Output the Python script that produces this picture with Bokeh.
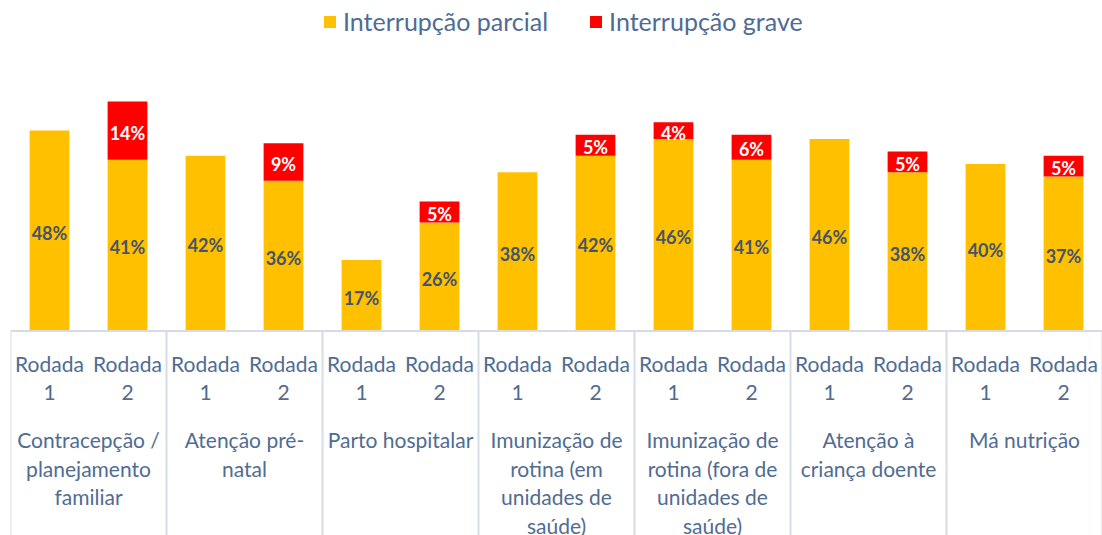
from bokeh.plotting import figure
from bokeh.models import ColumnDataSource, Range1d, Legend, LegendItem
from bokeh.core.properties import value
from bokeh.embed import file_html
from bokeh.resources import INLINE

# ---- data ----
groups = [
    "Contracepção /\nplanejamento\nfamiliar",
    "Atenção pré-\nnatal",
    "Parto hospitalar",
    "Imunização de\nrotina (em\nunidades de\nsaúde)",
    "Imunização de\nrotina (fora de\nunidades de\nsaúde)",
    "Atenção à\ncriança doente",
    "Má nutrição",
]
rounds = ["Rodada\n1", "Rodada\n2"]
parcial_r1 = [48, 42, 17, 38, 46, 46, 40]
parcial_r2 = [41, 36, 26, 42, 41, 38, 37]
grave_r1 = [0, 0, 0, 0, 4, 0, 0]
grave_r2 = [14, 9, 5, 5, 6, 5, 5]

YELLOW = "#FFC000"
RED = "#FF0000"
LABEL = "#44546A"
CAT = "#506C92"
GRID = "#D6DCE5"
FONT = "Lato"

# ---- build sources ----
xs, par, grv = [], [], []
for i in range(len(groups)):
    for j, (p_, g_) in enumerate([(parcial_r1[i], grave_r1[i]), (parcial_r2[i], grave_r2[i])]):
        xs.append(2 * i + j + 0.5)
        par.append(p_)
        grv.append(g_)

src_p = ColumnDataSource(dict(x=xs, top=par, ymid=[v / 2 for v in par],
                              lab=[f"{v}%" for v in par]))
gx = [x for x, g in zip(xs, grv) if g > 0]
gb = [p_ for p_, g in zip(par, grv) if g > 0]
gg = [g for g in grv if g > 0]
src_g = ColumnDataSource(dict(x=gx, bottom=gb, top=[b + g for b, g in zip(gb, gg)],
                              ymid=[b + g / 2 for b, g in zip(gb, gg)],
                              lab=[f"{g}%" for g in gg]))

PX = 4.175  # pixels per percent
W, H = 1102, 535
left_border = 10
frame_w = W - left_border
base_px = 330.5  # baseline from figure top

p = figure(width=W, height=H, output_backend="svg", toolbar_location=None,
           x_range=Range1d(0.0, frame_w / 78.0),
           y_range=Range1d(-(H - base_px) / PX, base_px / PX),
           min_border_left=left_border, min_border_right=0,
           min_border_top=0, min_border_bottom=0)
p.xaxis.visible = False
p.yaxis.visible = False
p.xgrid.visible = False
p.ygrid.visible = False
p.outline_line_color = None

r1 = p.vbar(x="x", width=0.51, bottom=0, top="top", source=src_p,
            fill_color=YELLOW, line_color=None)
r2 = p.vbar(x="x", width=0.51, bottom="bottom", top="top", source=src_g,
            fill_color=RED, line_color=None)

p.text(x="x", y="ymid", y_offset=2, text="lab", source=src_p, text_align="center",
       text_baseline="middle", text_font=value(FONT), text_font_style="bold",
       text_font_size="18px", text_color=LABEL)
p.text(x="x", y="ymid", y_offset=2, text="lab", source=src_g, text_align="center",
       text_baseline="middle", text_font=value(FONT), text_font_style="bold",
       text_font_size="18px", text_color="white")

# axis line and separators
ybot = -(H - base_px) / PX
p.segment(x0=[0], y0=[0], x1=[2 * len(groups)], y1=[0], line_color=GRID, line_width=2)
sep_x = [2 * i for i in range(len(groups) + 1)]
p.segment(x0=sep_x, y0=[0] * len(sep_x), x1=sep_x, y1=[ybot] * len(sep_x),
          line_color=GRID, line_width=2)

# category labels
cx, cy_off, ct = [], [], []
for i in range(len(groups)):
    for j, r in enumerate(rounds):
        for k, line in enumerate(r.split("\n")):
            cx.append(2 * i + j + 0.5)
            cy_off.append(32.5 + 29 * k)
            ct.append(line)
    for k, line in enumerate(groups[i].split("\n")):
        cx.append(2 * i + 1.0)
        cy_off.append(108.5 + 28.7 * k)
        ct.append(line)
src_c = ColumnDataSource(dict(x=cx, y=[0] * len(cx), yo=cy_off, t=ct))
p.text(x="x", y="y", y_offset="yo", text="t", source=src_c, text_align="center",
       text_baseline="middle", text_font=value(FONT), text_font_size="21px",
       text_color=CAT)

legend = Legend(items=[LegendItem(label="Interrupção parcial", renderers=[r1]),
                       LegendItem(label="Interrupção grave", renderers=[r2])],
                orientation="horizontal", location=(312, 499),
                glyph_width=15, glyph_height=15, label_standoff=6, spacing=40,
                padding=0, margin=0, border_line_color=None,
                background_fill_alpha=0, label_text_font=FONT,
                label_text_font_size="25px", label_text_color=CAT)
p.add_layout(legend)

open("out.html", "w").write(file_html(p, INLINE))
